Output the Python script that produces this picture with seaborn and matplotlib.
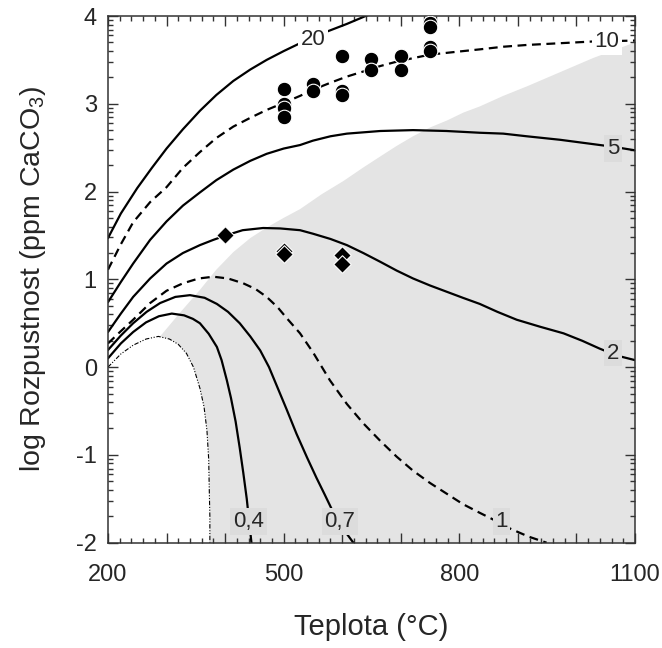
import numpy as np
import matplotlib
matplotlib.use("Agg")
import matplotlib.pyplot as plt
import seaborn as sns
from matplotlib.ticker import FixedLocator

# isolines (x = teplota, y = log rozpustnost)
c20_x = [200, 222, 250, 275, 300, 328, 357, 385, 414, 443, 471, 500, 528, 550, 573, 608, 640, 660]
c20_y = [1.47, 1.75, 2.04, 2.27, 2.49, 2.71, 2.92, 3.10, 3.26, 3.39, 3.50, 3.60, 3.69, 3.75, 3.82, 3.91, 4.0, 4.05]

c10_x = [200, 222, 243, 272, 300, 328, 357, 385, 414, 443, 471, 500, 528, 550, 580, 608, 637, 665,
         693, 721, 750, 778, 806, 835, 875, 915, 972, 1029, 1100]
c10_y = [1.11, 1.40, 1.65, 1.88, 2.05, 2.27, 2.45, 2.61, 2.74, 2.84, 2.93, 3.01, 3.09, 3.16, 3.24, 3.31,
         3.37, 3.43, 3.48, 3.52, 3.56, 3.58, 3.60, 3.62, 3.65, 3.67, 3.69, 3.71, 3.72]

c5_x = [200, 222, 243, 272, 300, 328, 357, 385, 414, 443, 471, 500, 528, 550, 580, 608, 665, 721,
        778, 835, 875, 915, 972, 1029, 1063, 1100]
c5_y = [0.74, 0.97, 1.18, 1.45, 1.66, 1.84, 1.99, 2.13, 2.25, 2.35, 2.43, 2.49, 2.53, 2.58, 2.63, 2.66,
        2.69, 2.70, 2.69, 2.67, 2.66, 2.63, 2.59, 2.54, 2.51, 2.47]

c2_x = [200, 222, 243, 272, 300, 328, 357, 380, 401, 430, 465, 494, 528, 550, 580, 608, 636, 665, 693,
        721, 750, 778, 806, 835, 865, 898, 938, 978, 1010, 1040, 1070, 1100]
c2_y = [0.40, 0.61, 0.80, 1.01, 1.18, 1.30, 1.39, 1.45, 1.50, 1.56, 1.585, 1.58, 1.56, 1.52, 1.46, 1.39,
        1.30, 1.20, 1.10, 1.01, 0.93, 0.86, 0.79, 0.72, 0.63, 0.54, 0.46, 0.385, 0.30, 0.21, 0.13, 0.08]

c1_x = [200, 222, 243, 272, 300, 328, 355, 380, 405, 431, 452, 471, 490, 505, 528, 550, 579, 608, 636,
        665, 693, 721, 750, 778, 806, 835, 862, 887, 918, 949]
c1_y = [0.27, 0.41, 0.54, 0.73, 0.87, 0.955, 1.01, 1.03, 1.01, 0.955, 0.89, 0.80, 0.68, 0.56, 0.385,
        0.17, -0.15, -0.42, -0.64, -0.84, -1.02, -1.18, -1.32, -1.44, -1.56, -1.66, -1.75, -1.84, -1.93, -2.0]

c07_x = [200, 222, 243, 266, 289, 315, 340, 365, 386, 405, 425, 443, 460, 475, 490, 505, 522, 540,
         556, 570, 583, 598, 608, 619]
c07_y = [0.195, 0.36, 0.50, 0.63, 0.73, 0.80, 0.82, 0.79, 0.72, 0.63, 0.50, 0.35, 0.19, 0.0, -0.24,
         -0.48, -0.76, -1.03, -1.26, -1.45, -1.63, -1.80, -1.90, -2.0]

c04_x = [200, 222, 243, 265, 287, 309, 330, 345, 357, 372, 386, 394, 403, 410, 418, 425, 431, 437, 441, 445]
c04_y = [0.10, 0.27, 0.40, 0.51, 0.58, 0.61, 0.59, 0.55, 0.50, 0.38, 0.23, 0.08, -0.15, -0.35, -0.62,
         -0.92, -1.20, -1.50, -1.75, -2.0]

hranice_x = [200, 222, 243, 265, 286, 305, 320, 334, 346, 357, 364, 369, 372, 373, 374, 374]
hranice_y = [0.0, 0.15, 0.25, 0.32, 0.35, 0.32, 0.26, 0.157, 0.0, -0.24, -0.45, -0.72, -1.05, -1.40, -1.70, -2.0]

sede_x = [289, 323, 357, 385, 414, 443, 471, 500, 528, 565, 602, 635, 665, 693, 721, 750, 779, 807,
          835, 875, 916, 944, 972, 1000, 1028, 1064, 1100]
sede_y = [0.35, 0.62, 0.88, 1.11, 1.31, 1.47, 1.59, 1.70, 1.80, 1.97, 2.12, 2.27, 2.40, 2.52, 2.63,
          2.73, 2.81, 2.90, 2.97, 3.09, 3.20, 3.28, 3.36, 3.44, 3.52, 3.61, 3.70]

# measured points
kruh_x = [500, 500, 500, 500, 550, 550, 600, 600, 600, 650, 650, 700, 700, 750, 750, 750, 750]
kruh_y = [3.17, 3.00, 2.95, 2.85, 3.23, 3.14, 3.54, 3.15, 3.10, 3.51, 3.39, 3.54, 3.39, 3.92, 3.87, 3.65, 3.60]
kosoctverec_x = [400, 500, 500, 600, 600]
kosoctverec_y = [1.50, 1.32, 1.29, 1.28, 1.175]

popisky = ["20", "10", "5", "2", "1", "0,7", "0,4"]
popisky_x = [550, 1052, 1063, 1063, 872, 596, 440]
popisky_y = [3.73, 3.71, 2.49, 0.16, -1.76, -1.76, -1.76]

sns.set_style("ticks")
plt.rcParams["font.family"] = ["Liberation Sans", "DejaVu Sans"]
plt.rcParams["axes.unicode_minus"] = False

fig = plt.figure(figsize=(6.62, 6.48), dpi=100)
ax = fig.add_axes([0.1631, 0.1625, 0.7961, 0.8128])

grey = "#e4e4e4"
# shaded field: upper boundary, right edge, then back along the dash-dot line
poly_x = sede_x + [1100] + hranice_x[::-1][:-4]
poly_y = sede_y + [-2] + hranice_y[::-1][:-4]
ax.fill(poly_x, poly_y, color=grey, lw=0, zorder=0)

curves = [
    (c20_x, c20_y, "-"), (c10_x, c10_y, "--"), (c5_x, c5_y, "-"),
    (c2_x, c2_y, "-"), (c1_x, c1_y, "--"), (c07_x, c07_y, "-"), (c04_x, c04_y, "-"),
]
for cx, cy, ls in curves:
    sns.lineplot(x=cx, y=cy, ax=ax, color="black", lw=1.6, sort=False, estimator=None, zorder=2)
    if ls == "--":
        ax.lines[-1].set_dashes((4, 2.5))

sns.lineplot(x=hranice_x, y=hranice_y, ax=ax, color="black", lw=0.8, sort=False, estimator=None, zorder=2)
ax.lines[-1].set_dashes((4, 1.5, 1, 1.5, 1, 1.5))

sns.scatterplot(x=kruh_x, y=kruh_y, ax=ax, marker="o", s=110, color="black",
                edgecolor="white", linewidth=0.8, zorder=5)
sns.scatterplot(x=kosoctverec_x, y=kosoctverec_y, ax=ax, marker="D", s=80, color="black",
                edgecolor="white", linewidth=0.8, zorder=5)

for t, tx, ty in zip(popisky, popisky_x, popisky_y):
    fc = "white" if t in ("20", "10") else "#dcdcdc"
    ax.text(tx, ty, t, ha="center", va="center", fontsize=16, zorder=4,
            bbox=dict(boxstyle="square,pad=0.12", fc=fc, ec="none"))

ax.set_xlim(200, 1100)
ax.set_ylim(-2, 4)
ax.set_xticks(np.arange(200, 1101, 100))
ax.set_xticklabels([str(v) if v in (200, 500, 800, 1100) else "" for v in range(200, 1101, 100)])
ax.xaxis.set_minor_locator(FixedLocator(np.arange(200, 1101, 20)))
ax.set_yticks(range(-2, 5))
ax.yaxis.set_minor_locator(FixedLocator([n + np.log10(k) for n in range(-2, 4) for k in range(2, 10)]))
ax.tick_params(which="both", direction="in", top=True, right=True, width=1, color="#333333")
ax.tick_params(which="major", length=7, labelsize=17)
ax.tick_params(axis="x", which="major", pad=15)
ax.tick_params(axis="y", which="major", pad=8)
ax.tick_params(which="minor", length=3.5)
for s in ax.spines.values():
    s.set_linewidth(1.1)
    s.set_color("#333333")

ax.set_xlabel("Teplota (°C)", fontsize=21, labelpad=20)
ax.set_ylabel(r"log Rozpustnost (ppm CaCO$\mathregular{_3}$)", fontsize=20.5, labelpad=20)

fig.savefig("out.png", dpi=100)
